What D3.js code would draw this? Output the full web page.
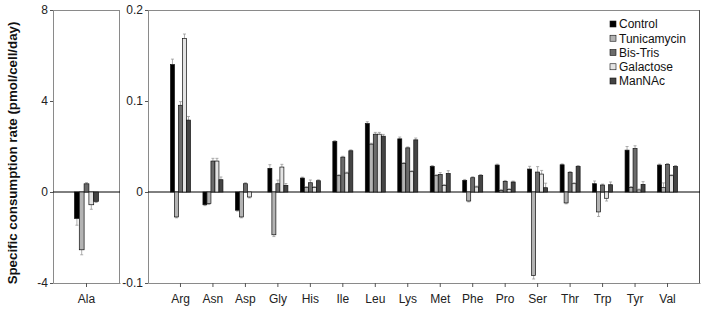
<!DOCTYPE html>
<html><head><meta charset="utf-8">
<script src="https://cdn.jsdelivr.net/npm/d3@7"></script>
<style>body{margin:0;background:#fff}svg{display:block;font-family:"Liberation Sans",Arial,sans-serif}</style>
</head><body>
<script>
const seriesNames = ["Control","Tunicamycin","Bis-Tris","Galactose","ManNAc"];
const seriesColors = ["#000000","#b3b3b3","#6b6b6b","#e4e4e4","#444444"];

const alaCategory = ["Ala"];
const alaValues = [-1.16, -2.54, 0.36, -0.56, -0.41];
const alaErrors = [0.30, 0.22, 0.05, 0.20, 0.05];
const alaTicks = [-4, 0, 4, 8];

const categories = ["Arg","Asn","Asp","Gly","His","Ile","Leu","Lys","Met","Phe","Pro","Ser","Thr","Trp","Tyr","Val"];
const control     = [0.140,-0.014,-0.020,0.026,0.0153,0.0555,0.0752,0.0584,0.0281,0.0128,0.0296,0.0252,0.0299,0.0091,0.046,0.0296];
const tunicamycin = [-0.0274,-0.0128,-0.0274,-0.047,0.005,0.0179,0.0526,0.0314,0.0179,-0.0099,0.0018,-0.0916,-0.012,-0.0219,0.005,0.005];
const bisTris     = [0.0953,0.034,0.0091,0.0091,0.0102,0.0383,0.0635,0.0485,0.0193,0.0157,0.0117,0.0219,0.0215,0.0077,0.0478,0.0303];
const galactose   = [0.1686,0.034,-0.0055,0.0274,0.005,0.0208,0.0635,0.0223,0.0073,0.0055,0.0026,0.0197,0.0091,-0.0069,0.0022,0.0179];
const manNAc      = [0.079,0.0135,0,0.0073,0.0124,0.0453,0.0613,0.0573,0.0204,0.0182,0.011,0.0047,0.0281,0.008,0.0084,0.0281];

const controlErr     = [0.006,0.001,0.001,0.004,0.001,0.001,0.002,0.002,0.001,0.001,0.001,0.003,0.001,0.003,0.004,0.001];
const tunicamycinErr = [0.001,0.001,0.001,0.002,0.001,0.001,0.001,0.001,0.001,0.001,0.001,0.004,0.001,0.005,0.001,0.005];
const bisTrisErr     = [0.004,0.003,0.001,0.004,0.003,0.001,0.002,0.001,0.002,0.001,0.001,0.006,0.001,0.001,0.003,0.001];
const galactoseErr   = [0.005,0.003,0.001,0.003,0.001,0.001,0.002,0.001,0.001,0.001,0.001,0.004,0.001,0.003,0.001,0.001];
const manNAcErr      = [0.004,0.003,0,0.002,0.001,0.001,0.002,0.002,0.003,0.001,0.001,0.005,0.001,0.003,0.003,0.001];
const mainTicks = [-0.1, 0, 0.1, 0.2];

const mainSeries = [control, tunicamycin, bisTris, galactose, manNAc];
const mainErrs = [controlErr, tunicamycinErr, bisTrisErr, galactoseErr, manNAcErr];

const W = 703, H = 309, plotTop = 10, plotBottom = 283;
const svg = d3.select("body").append("svg").attr("width", W).attr("height", H);
const boxColor = "#8a8a8a";

function panel(x0, x1, cats, yDomain, ticks, valuesBySeries, errsBySeries, barW, fullBox) {
  const y = d3.scaleLinear().domain(yDomain).range([plotBottom, plotTop]);
  const x = d3.scaleBand().domain(cats).range([x0, x1]).paddingInner(0).paddingOuter(cats.length > 1 ? 0.5 : 0);
  const g = svg.append("g");
  g.append("line").attr("x1", x0).attr("x2", x1).attr("y1", plotTop + 0.5).attr("y2", plotTop + 0.5).attr("stroke", boxColor);
  g.append("line").attr("x1", x1 - 0.5).attr("x2", x1 - 0.5).attr("y1", plotTop).attr("y2", plotBottom).attr("stroke", fullBox ? boxColor : "#555");
  const ya = g.append("g").attr("transform", `translate(${x0},0)`)
    .call(d3.axisLeft(y).tickValues(ticks).tickSize(3).tickFormat(d => String(d)));
  ya.select(".domain").attr("stroke", boxColor);
  ya.selectAll(".tick line").attr("stroke", "#555");
  ya.selectAll("text").attr("font-size", 12).attr("fill", "#222").attr("dx", 1);
  const xa = g.append("g").attr("transform", `translate(0,${plotBottom})`)
    .call(d3.axisBottom(x).tickSize(4).tickSizeOuter(0));
  xa.select(".domain").attr("stroke", boxColor);
  xa.selectAll(".tick line").attr("stroke", "#555");
  xa.selectAll("text").attr("font-size", 12).attr("fill", "#222").attr("dy", "1.1em");
  g.append("line").attr("x1", x0).attr("x2", x1).attr("y1", y(0)).attr("y2", y(0)).attr("stroke", "#000").attr("stroke-width", 1);
  valuesBySeries.forEach((vals, si) => {
    const off = (si - 2) * barW;
    cats.forEach((c, ci) => {
      const v = vals[ci], e = errsBySeries[si][ci];
      const cx = x(c) + x.bandwidth() / 2 + off;
      const ye = y(v + Math.sign(v) * e);
      if (e > 0 && v !== 0) {
        g.append("line").attr("x1", cx).attr("x2", cx).attr("y1", y(v)).attr("y2", ye).attr("stroke", "#999").attr("stroke-width", 0.8);
        g.append("line").attr("x1", cx - 1.5).attr("x2", cx + 1.5).attr("y1", ye).attr("y2", ye).attr("stroke", "#999").attr("stroke-width", 0.8);
      }
      if (v !== 0) {
        g.append("rect").attr("x", cx - barW / 2).attr("width", barW)
          .attr("y", Math.min(y(v), y(0))).attr("height", Math.abs(y(v) - y(0)))
          .attr("fill", seriesColors[si]).attr("stroke", "#111").attr("stroke-width", 0.7);
      }
    });
  });
}

panel(53, 120, alaCategory, [-4, 8], alaTicks, alaValues.map(v => [v]), alaErrors.map(e => [e]), 4.8, true);
panel(148, 700, categories, [-0.1, 0.2], mainTicks, mainSeries, mainErrs, 4, false);

const t = svg.append("text").attr("transform", "translate(17,153) rotate(-90)")
  .attr("text-anchor", "middle").attr("font-weight", "bold").attr("font-size", 13).attr("fill", "#111")
  .text("Specific consumption rate (pmol/cell/day)");
const len = t.node().getComputedTextLength();
t.attr("font-size", 13 * 263 / len);

const lg = svg.append("g").attr("transform", "translate(610,24)");
seriesNames.forEach((n, i) => {
  const r = lg.append("g").attr("transform", `translate(0,${i * 14.25})`);
  r.append("rect").attr("x", 0).attr("y", -3).attr("width", 6).attr("height", 6)
    .attr("fill", seriesColors[i]).attr("stroke", "#111").attr("stroke-width", 0.6);
  r.append("text").attr("x", 9).attr("y", 4.3).attr("font-size", 12).attr("fill", "#111").text(n);
});
</script>
</body></html>
